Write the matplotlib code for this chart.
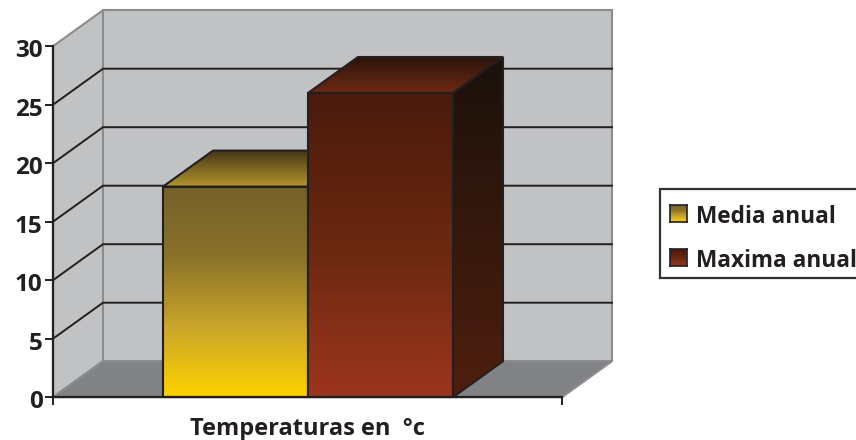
import numpy as np
import matplotlib.pyplot as plt
from matplotlib.colors import LinearSegmentedColormap
from matplotlib.patches import Polygon, Rectangle
from matplotlib.transforms import ScaledTranslation

plt.rcParams['font.family'] = ['Open Sans', 'DejaVu Sans']
plt.rcParams['font.weight'] = 'bold'

category = "Temperaturas en  °c"
series_names = ["Media anual", "Maxima anual"]
series_values = [18, 26]
y_ticks = [0, 5, 10, 15, 20, 25, 30]

W, H = 856, 440
INK = "#231f20"
WALL = "#c1c2c4"
FLOOR = "#808285"
EDGE = "#8a8c8e"

fig = plt.figure(figsize=(W / 100, H / 100), dpi=100)
ax = fig.add_axes([53 / W, 1 - 397.2 / H, 509 / W, 351 / H])
ax.set_facecolor("none")

# oblique depth of the 3D box, in data units
DX = 50 / 509
DY = 36 / 351 * 30
BAR_W = 145 / 509
BAR_X0 = 110 / 509


def grad(colors):
    return LinearSegmentedColormap.from_list("g", colors)


def shade(pts, colors, z):
    # vertical gradient clipped to a polygon, colors run from top to bottom
    pts = np.array(pts)
    poly = Polygon(pts, closed=True, facecolor="none", edgecolor=INK, lw=1.5,
                   zorder=z + .1, clip_on=False, joinstyle="miter")
    ax.add_patch(poly)
    im = ax.imshow(np.linspace(0, 1, 256)[:, None], cmap=grad(colors), aspect="auto",
                   extent=(pts[:, 0].min(), pts[:, 0].max(), pts[:, 1].min(), pts[:, 1].max()),
                   origin="upper", zorder=z, clip_on=True)
    im.set_clip_path(poly)


def bar3d(x, v, front, top, side, z):
    w = BAR_W
    shade([(x, v), (x + w, v), (x + w + DX, v + DY), (x + DX, v + DY)], top, z)
    shade([(x + w, 0), (x + w + DX, DY), (x + w + DX, v + DY), (x + w, v)], side, z)
    shade([(x, 0), (x + w, 0), (x + w, v), (x, v)], front, z)


# walls and floor
ax.add_patch(Polygon([(0, 0), (DX, DY), (DX, 30 + DY), (0, 30)], facecolor=WALL,
                     edgecolor=EDGE, lw=1.5, zorder=1, clip_on=False))
ax.add_patch(Polygon([(DX, DY), (1 + DX, DY), (1 + DX, 30 + DY), (DX, 30 + DY)], facecolor=WALL,
                     edgecolor=EDGE, lw=1.5, zorder=1, clip_on=False))
ax.add_patch(Polygon([(0, 0), (1, 0), (1 + DX, DY), (DX, DY)], facecolor=FLOOR,
                     edgecolor=EDGE, lw=1.5, zorder=1.5, clip_on=False))

# gridlines run up the side wall then along the back wall
for t in y_ticks[1:-1]:
    ax.plot([0, DX, 1 + DX], [t, t + DY, t + DY], color=INK, lw=1.4, zorder=2,
            clip_on=False, solid_joinstyle="miter")

palettes = [
    dict(front=["#75602a", "#8a7229", "#c9a52a", "#ffd200"],
         top=["#463816", "#b5952f"], side=["#3a2c10", "#8a6a10"]),
    dict(front=["#4a1a0c", "#6a2810", "#9c351e"],
         top=["#2b150c", "#6f2912"], side=["#1a110b", "#4f1f0f"]),
]
for i, (v, p) in enumerate(zip(series_values, palettes)):
    bar3d(BAR_X0 + i * BAR_W, v, p["front"], p["top"], p["side"], 3 + i)

ax.set_xlim(0, 1)
ax.set_ylim(0, 30)

ax.set_yticks(y_ticks)
ax.set_xticks([0, 1])
ax.set_xticklabels(["", ""])
ax.tick_params(axis="y", length=5.5, width=1.4, color=INK, labelcolor=INK, labelsize=17.5, pad=2)
ax.tick_params(axis="x", length=5.5, width=1.4, color=INK)
nudge = ScaledTranslation(0, -2 / 100, fig.dpi_scale_trans)
for lab in ax.get_yticklabels():
    lab.set_fontweight("bold")
    lab.set_transform(lab.get_transform() + nudge)
for s in ("top", "right"):
    ax.spines[s].set_visible(False)
for s in ("left", "bottom"):
    ax.spines[s].set_color(INK)
    ax.spines[s].set_linewidth(1.6)
    ax.spines[s].set_zorder(6)

fig.text(308 / W, 1 - 428.5 / H, category, ha="center", va="center", fontsize=17,
         fontweight="bold", color=INK)

# legend box, runs off the right side of the figure
fig.add_artist(Rectangle((660 / W, 1 - 278 / H), 230 / W, 89 / H, transform=fig.transFigure,
                         facecolor="white", edgecolor="#333132", lw=1.6, zorder=-1))
for name, p, top, text_y in zip(series_names, palettes, [205, 249], [217, 261]):
    sw = fig.add_axes([670 / W, 1 - (top + 17) / H, 17 / W, 17 / H], zorder=2)
    sw.imshow(np.linspace(0, 1, 64)[:, None], cmap=grad(p["front"]), aspect="auto")
    sw.set_xticks([])
    sw.set_yticks([])
    for s in sw.spines.values():
        s.set_color(INK)
        s.set_linewidth(1.2)
    fig.text(695.5 / W, 1 - text_y / H, name, ha="left", va="center", fontsize=16.3,
             fontweight="bold", color=INK)

fig.savefig("out.png", dpi=100)
